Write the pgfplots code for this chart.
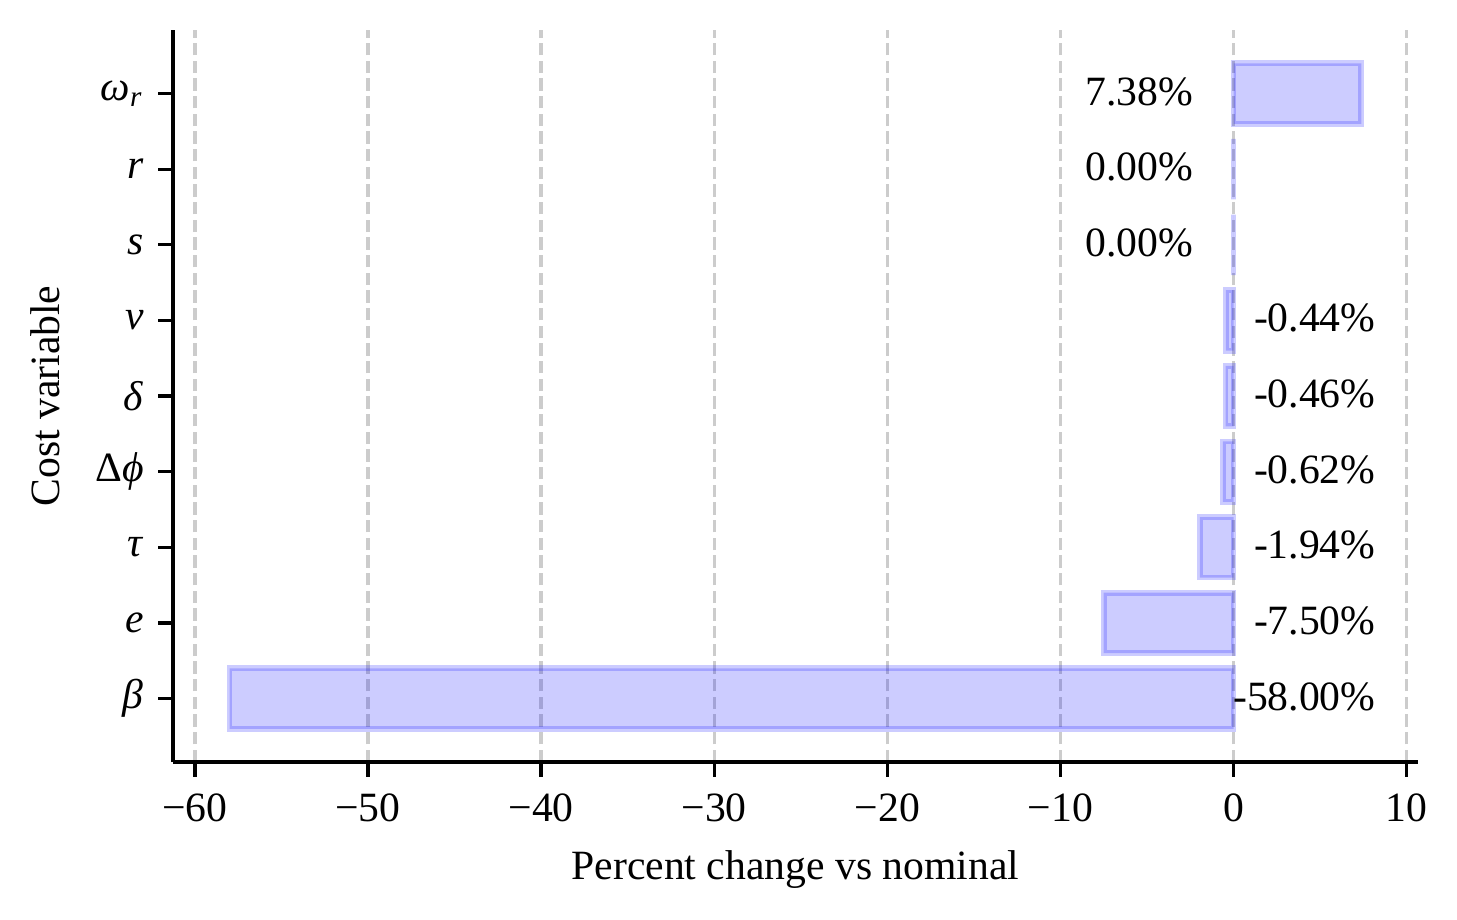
\documentclass[border=0pt]{standalone}
\usepackage{pgfplots}
\pgfplotsset{compat=1.18}
\usepackage{fontspec}
\setmainfont{Liberation Serif}
\begin{document}
\begin{tikzpicture}
\begin{axis}[
  scale only axis,
  width=298.8pt, height=175.7pt,
  xmin=-61.27, xmax=10.65,
  ymin=-0.84, ymax=8.84,
  axis x line*=bottom, axis y line*=left,
  axis line style={line width=0.8pt,-},
  xbar, bar width=0.8,
  xtick={-60,-50,-40,-30,-20,-10,0,10},
  xticklabels={−60,−50,−40,−30,−20,−10,0,10},
  ytick={0,1,2,3,4,5,6,7,8},
  yticklabels={\textit{β},\textit{e},\textit{τ},Δ\textit{ϕ},\textit{δ},\textit{v},\textit{s},\textit{r},\textit{ω}\textsubscript{\textit{r}}},
  tick align=outside,
  major tick length=3.5pt,
  tick style={line width=0.8pt,black},
  ticklabel style={font=\fontsize{10}{12}\selectfont},
  xticklabel style={yshift=-0.6pt},
  xmajorgrids,
  grid style={dash pattern=on 2.96pt off 1.28pt, line width=0.8pt, color=black!20},
  xlabel={Percent change vs nominal},
  ylabel={Cost variable},
  label style={font=\fontsize{10}{12}\selectfont},
  xlabel style={at={(axis description cs:0.5,0)}, anchor=center, yshift=-25.9pt},
  ylabel style={at={(axis description cs:0,0.5)}, anchor=center, rotate=0, yshift=30.7pt},
]
\addplot[fill=blue, fill opacity=0.2, draw=blue, draw opacity=0.2, line width=1.4pt]
  coordinates {(-58.00,0) (-7.50,1) (-1.94,2) (-0.62,3) (-0.46,4) (-0.44,5) (0.00,6) (0.00,7) (7.38,8)};
\begin{scope}[font=\fontsize{10}{12}\selectfont]
\node[anchor=east, inner sep=0pt, yshift=0.5pt] at (axis cs:8.25,0) {-58.00\%};
\node[anchor=east, inner sep=0pt, yshift=0.5pt] at (axis cs:8.25,1) {-7.50\%};
\node[anchor=east, inner sep=0pt, yshift=0.5pt] at (axis cs:8.25,2) {-1.94\%};
\node[anchor=east, inner sep=0pt, yshift=0.5pt] at (axis cs:8.25,3) {-0.62\%};
\node[anchor=east, inner sep=0pt, yshift=0.5pt] at (axis cs:8.25,4) {-0.46\%};
\node[anchor=east, inner sep=0pt, yshift=0.5pt] at (axis cs:8.25,5) {-0.44\%};
\node[anchor=east, inner sep=0pt, yshift=0.5pt] at (axis cs:-2.3,6) {0.00\%};
\node[anchor=east, inner sep=0pt, yshift=0.5pt] at (axis cs:-2.3,7) {0.00\%};
\node[anchor=east, inner sep=0pt, yshift=0.5pt] at (axis cs:-2.3,8) {7.38\%};
\end{scope}
\end{axis}
\pgfresetboundingbox
\useasboundingbox (-41.5pt,-37.7pt) rectangle (308.2pt,182.9pt);
\end{tikzpicture}
\end{document}
